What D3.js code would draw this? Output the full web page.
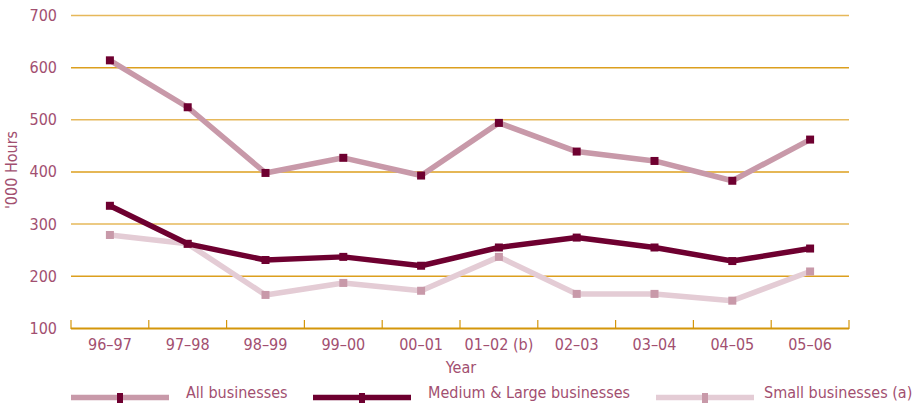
<!DOCTYPE html>
<html><head><meta charset="utf-8">
<script src="https://cdn.jsdelivr.net/npm/d3@7"></script>
<style>
body{margin:0;background:#fff;}
text{font-family:"DejaVu Sans Condensed","Liberation Sans Narrow",sans-serif;fill:#a24f70;}
</style></head>
<body><svg id="c" width="913" height="407"></svg>
<script>
const categories=["96–97","97–98","98–99","99–00","00–01","01–02 (b)","02–03","03–04","04–05","05–06"];
const allBusinesses=[614,524,398,427,393,494,439,421,383,462];
const mediumLarge=[335,262,231,237,220,255,274,255,229,253];
const smallBusinesses=[279,262,164,187,172,237,166,166,153,209];
const yTicks=[100,200,300,400,500,600,700];
const seriesNames=["All businesses","Medium & Large businesses","Small businesses (a)"];

const svg=d3.select("#c");
const x=d3.scaleBand().domain(categories).range([71,849]);
const y=d3.scaleLinear().domain([100,700]).range([328.3,15.5]);

// grid
svg.append("g").selectAll("line").data(yTicks.filter(d=>d>100)).join("line")
 .attr("x1",71).attr("x2",849).attr("y1",d=>y(d)).attr("y2",d=>y(d))
 .attr("stroke",(d,i)=>i%2?"#e6b85a":"#dc9f1e").attr("stroke-width",1.5);

// y labels
svg.append("g").selectAll("text").data(yTicks).join("text")
 .attr("x",57).attr("y",d=>y(d)+5.5).attr("text-anchor","end").attr("font-size",16).text(d=>d);

// x axis
const xa=svg.append("g");
xa.append("line").attr("x1",71).attr("x2",849).attr("y1",328.5).attr("y2",328.5).attr("stroke","#d4960a").attr("stroke-width",2);
const bounds=categories.map(c=>x(c)).concat([x.range()[1]]);
xa.selectAll("line.t").data(bounds).join("line").attr("class","t")
 .attr("x1",d=>d).attr("x2",d=>d).attr("y1",320).attr("y2",329).attr("stroke","#d4960a").attr("stroke-width",1.2);
xa.selectAll("text").data(categories).join("text")
 .attr("x",d=>x(d)+x.bandwidth()/2).attr("y",350).attr("text-anchor","middle").attr("font-size",16).text(d=>d);

svg.append("text").attr("x",461).attr("y",373).attr("text-anchor","middle").attr("font-size",16).text("Year");
svg.append("text").attr("transform","translate(17,170) rotate(-90)").attr("text-anchor","middle").attr("font-size",16).text("'000 Hours");

const series=[
 {name:seriesNames[0],vals:allBusinesses,line:"#c899a9",mark:"#6e0030"},
 {name:seriesNames[2],vals:smallBusinesses,line:"#e4ccd5",mark:"#c899a9"},
 {name:seriesNames[1],vals:mediumLarge,line:"#6e0030",mark:"#6e0030"}
];
const lg=d3.line().x((d,i)=>x(categories[i])+x.bandwidth()/2).y(d=>y(d));
series.forEach(s=>{
 const g=svg.append("g");
 g.append("path").attr("d",lg(s.vals)).attr("fill","none").attr("stroke",s.line).attr("stroke-width",5.5).attr("stroke-linejoin","round");
 g.selectAll("rect").data(s.vals).join("rect")
  .attr("x",(d,i)=>x(categories[i])+x.bandwidth()/2-4).attr("y",d=>y(d)-4).attr("width",8).attr("height",8).attr("fill",s.mark);
});

// legend
const leg=[
 {name:seriesNames[0],line:"#c899a9",mark:"#6e0030",x0:71,tx:186},
 {name:seriesNames[1],line:"#6e0030",mark:"#6e0030",x0:313,tx:428},
 {name:seriesNames[2],line:"#e4ccd5",mark:"#c899a9",x0:656,tx:764}
];
leg.forEach(l=>{
 const g=svg.append("g");
 g.append("line").attr("x1",l.x0).attr("x2",l.x0+98).attr("y1",397.5).attr("y2",397.5).attr("stroke",l.line).attr("stroke-width",5.5);
 g.append("rect").attr("x",l.x0+46).attr("y",393).attr("width",6).attr("height",10).attr("fill",l.mark);
 g.append("text").attr("x",l.tx).attr("y",398).attr("font-size",16).text(l.name);
});
</script></body></html>
